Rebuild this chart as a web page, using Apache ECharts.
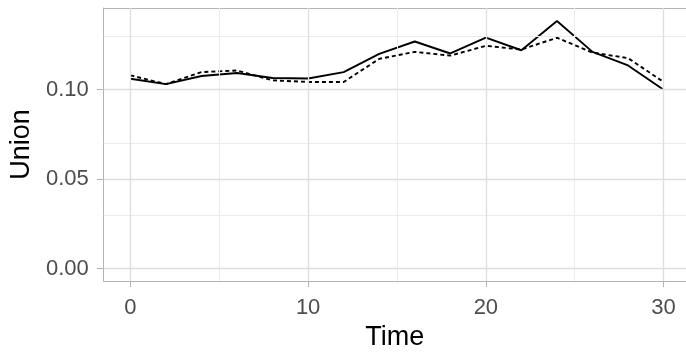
<!DOCTYPE html>
<html><head><meta charset="utf-8">
<script src="https://cdn.jsdelivr.net/npm/echarts@6/dist/echarts.min.js"></script>
<style>html,body{margin:0;padding:0;background:#fff;overflow:hidden}#c{width:686px;height:356px}</style>
</head><body><div id="c"></div>
<script>
const time = [0,2,4,6,8,10,12,14,16,18,20,22,24,26,28,30];
const unionSolid  = [0.1061,0.1031,0.1076,0.1093,0.1065,0.1062,0.1098,0.1200,0.1269,0.1202,0.1291,0.1220,0.1383,0.1211,0.1135,0.1000];
const unionDashed = [0.1080,0.1031,0.1098,0.1107,0.1052,0.1043,0.1043,0.1172,0.1211,0.1190,0.1245,0.1224,0.1290,0.1207,0.1176,0.1043];
const xTicks = [0,10,20,30];
const xMinor = [5,15,25];
const yTicks = [0,0.05,0.10];
const yMinor = [0.025,0.075,0.125];

const font = '"Liberation Sans", Arial, sans-serif';
const border = {show:true, onZero:false, lineStyle:{color:'#b3b3b3', width:1}};
const chart = echarts.init(document.getElementById('c'));
const pairs = a => time.map((t,i)=>[t,a[i]]);
chart.setOption({
  animation:false,
  grid:{left:101, top:8, right:0, bottom:74, show:false},
  xAxis:[{type:'value', min:-1.5, max:31.26,
    name:'Time', nameLocation:'middle', nameGap:40,
    nameTextStyle:{fontFamily:font, fontSize:27, color:'#000'},
    axisLine:border,
    axisTick:{show:true, length:6, customValues:xTicks, lineStyle:{color:'#b3b3b3', width:1}},
    axisLabel:{customValues:xTicks, margin:16, fontFamily:font, fontSize:22, color:'#4d4d4d'},
    splitLine:{show:false}},
   {type:'value', position:'top', min:-1.5, max:31.26,
    axisLine:border, axisTick:{show:false}, axisLabel:{show:false}, splitLine:{show:false}}],
  yAxis:{type:'value', min:-0.0069, max:0.1456,
    name:'Union', nameLocation:'middle', nameGap:66, nameRotate:90,
    nameTextStyle:{fontFamily:font, fontSize:27, color:'#000'},
    axisLine:border,
    axisTick:{show:true, length:7, customValues:yTicks, lineStyle:{color:'#b3b3b3', width:1}},
    axisLabel:{customValues:yTicks, margin:15, fontFamily:font, fontSize:22, color:'#4d4d4d',
      formatter:v=>v.toFixed(2)},
    splitLine:{show:false}},
  series:[
    {type:'line', data:[], silent:true, z:1,
      markLine:{silent:true, symbol:'none', label:{show:false}, animation:false,
        lineStyle:{color:'#ebebeb', width:1, type:'solid'},
        data:[...xMinor.map(v=>({xAxis:v})), ...yMinor.map(v=>({yAxis:v}))]}},
    {type:'line', data:[], silent:true, z:1,
      markLine:{silent:true, symbol:'none', label:{show:false}, animation:false,
        lineStyle:{color:'#dedede', width:1.3, type:'solid'},
        data:[...xTicks.map(v=>({xAxis:v})), ...yTicks.map(v=>({yAxis:v}))]}},
    {type:'line', data:pairs(unionDashed), showSymbol:false, z:3,
      lineStyle:{color:'#000', width:1.9, type:[4,3]}},
    {type:'line', data:pairs(unionSolid), showSymbol:false, z:4,
      lineStyle:{color:'#000', width:1.9, type:'solid'}}
  ]
});
</script></body></html>
